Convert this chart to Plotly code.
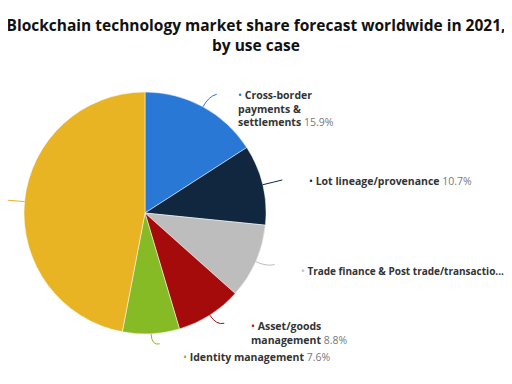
import math
import plotly.graph_objects as go

# ---- data ----
labels = ["Cross-border payments & settlements", "Lot lineage/provenance",
          "Trade finance & Post trade/transaction settlements",
          "Asset/goods management", "Identity management", "Others"]
values = [15.9, 10.7, 10.0, 8.8, 7.6, 47.0]
colors = ["#2a78d6", "#10273f", "#bdbdbd", "#a50b0b", "#86bb25", "#e8b424"]
label_texts = [
    "<b>Cross-border</b><br><b>payments &amp;</b><br><b>settlements</b> <span style='color:#777'>15.9%</span>",
    "<b>Lot lineage/provenance</b> <span style='color:#777'>10.7%</span>",
    "<b>Trade finance &amp; Post trade/transactio...</b>",
    "<b>Asset/goods</b><br><b>management</b> <span style='color:#777'>8.8%</span>",
    "<b>Identity management</b> <span style='color:#777'>7.6%</span>",
    "",
]

OFF = 8                      # browser body margin
W, H = 512 - OFF, 384 - OFF  # figure size
CX, CY, R = 145 - OFF, 213 - OFF, 121  # pie centre / radius in figure px


def px(x, y):
    return x / W, 1 - y / H


fig = go.Figure(go.Pie(
    labels=labels, values=values, sort=False, direction="clockwise", rotation=0,
    marker=dict(colors=colors, line=dict(color="white", width=0.5)),
    textinfo="none", hoverinfo="label+percent", showlegend=False,
    domain=dict(x=[(CX - R) / W, (CX + R) / W], y=[1 - (CY + R) / H, 1 - (CY - R) / H]),
))

# label placement (screen px, left edge / vertical centre) -- layout only
label_pos = [(236, 109), (307, 181), (299, 271), (249, 333), (181, 357), None]
label_size = [10.5, 10.5, 10, 10.5, 10.5, 10.5]

annotations = []
shapes = []
total = sum(values)
cum = 0.0
for i, v in enumerate(values):
    mid = (cum + v / 2) / total * 2 * math.pi
    cum += v
    s, c = math.sin(mid), math.cos(mid)
    sx, sy = CX + R * s, CY - R * c
    ex, ey = CX + (R + 12) * s, CY - (R + 12) * c
    hx = ex + (8 if s >= 0 else -30)
    hy = ey - 2
    p0, p1, p2 = px(sx, sy), px(ex, ey), px(hx, hy)
    path = f"M {p0[0]},{p0[1]} Q {p1[0]},{p1[1]} {p2[0]},{p2[1]}"
    shapes.append(dict(type="path", xref="paper", yref="paper", path=path,
                       line=dict(color=colors[i], width=1)))
    if label_pos[i] is not None and label_texts[i]:
        lx, ly = label_pos[i]
        ax, ay = px(lx - OFF, ly - OFF)
        txt = f"<span style='color:{colors[i]}'>•</span> " + label_texts[i]
        annotations.append(dict(
            x=ax, y=ay, xref="paper", yref="paper",
            xanchor="left", yanchor="middle", align="left",
            text=txt, showarrow=False,
            font=dict(family="Open Sans", size=label_size[i], color="#333333")))

fig.update_layout(
    width=W, height=H, autosize=False,
    margin=dict(l=0, r=0, t=0, b=0),
    paper_bgcolor="white", plot_bgcolor="white",
    title=dict(text="<b>Blockchain technology market share forecast worldwide in 2021,<br>by use case</b>",
               x=0.5 - 4 / W, xanchor="center", y=1 - 23 / H, yanchor="middle",
               font=dict(family="Open Sans", size=15.5, color="#111111")),
    annotations=annotations, shapes=shapes,
)

fig.write_html("out.html")
